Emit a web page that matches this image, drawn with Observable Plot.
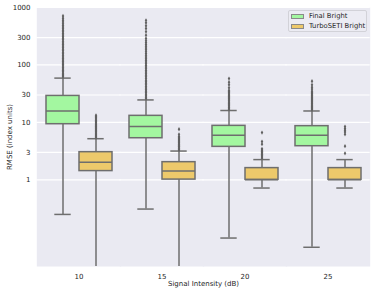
<!DOCTYPE html>
<html><head><meta charset="utf-8">
<script src="https://cdn.jsdelivr.net/npm/d3@7"></script>
<script src="https://cdn.jsdelivr.net/npm/@observablehq/plot@0.6"></script>
<style>
body{margin:0;background:#fff;font-family:"DejaVu Sans",sans-serif;}
#wrap{position:relative;width:374px;height:292px;}
.legend{position:absolute;left:288px;top:10px;width:79px;height:22px;box-sizing:border-box;border:1px solid #d2d2d8;border-radius:2px;background:#ececf3;font-size:6.8px;color:#262626;}
.legend .row{position:absolute;left:2px;display:flex;align-items:center;height:8px;}
.sw{width:13px;height:5px;border:1px solid #8a8a8a;box-sizing:border-box;margin-right:5px}
</style></head>
<body><div id="wrap"></div>
<script>
const intensities = ["10","15","20","25"];
const seriesNames = ["Final Bright","TurboSETI Bright"];
const seriesColors = ["#a3f7a0","#edc96b"];
const yTicks = [1,3,10,30,100,300,1000];

const finalLow  = [0.25, 0.31, 0.097, 0.067];
const finalQ1   = [9.3, 5.3, 3.75, 3.85];
const finalMed  = [15.8, 8.5, 6.0, 6.0];
const finalQ3   = [28.9, 13.0, 8.7, 8.6];
const finalHigh = [59, 24.6, 16.1, 15.8];

const turboLow  = [0.001, 0.001, 0.72, 0.72];
const turboQ1   = [1.42, 1.01, 1.0, 1.0];
const turboMed  = [2.03, 1.43, 1.0, 1.0];
const turboQ3   = [3.03, 2.03, 1.6, 1.6];
const turboHigh = [5.2, 3.17, 2.25, 2.25];

const finalOutliers = [
  [62,65,68,72,76,80,85,90,96,102,108,115,122,130,138,147,156,166,177,188,200,213,227,242,258,275,293,312,332,354,377,402,428,456,486,520,560,600,650,711],
  [26,27.5,29,31,33,35,37,39.5,42,45,48,51,54,58,62,66,70,75,80,86,92,98,105,112,120,128,137,147,158,170,183,197,212,228,245,265,290,330,380,430,480,540,599],
  [17,17.8,18.6,19.5,20.4,21.4,22.4,23.5,24.6,25.8,27,28.3,29.7,31.2,32.8,34.5,36,40,45,50,57.8],
  [16.6,17.4,18.2,19,19.9,20.8,21.8,22.8,23.9,25,26.2,27.4,28.7,30,31.5,33,35,38,41,45,52]
];
const turboOutliers = [
  [5.45,5.7,5.95,6.2,6.5,6.8,7.1,7.4,7.75,8.1,8.5,8.9,9.3,9.8,10.3,10.8,11.4,12,12.6,13.3],
  [3.3,3.45,3.6,3.75,3.9,4.05,4.2,4.4,4.6,4.8,5.0,5.2,5.45,5.7,6.2,7.6],
  [2.38,2.51,2.62,2.72,2.83,2.95,3.07,3.19,3.32,3.46,4.18,4.63,6.65],
  [2.9,3.85,6.2,6.8,7.3,7.8,8.45]
];

const boxes = [];
const outliers = [];
intensities.forEach((k, i) => {
  boxes.push({intensity:k, series:seriesNames[0], low:finalLow[i], q1:finalQ1[i], med:finalMed[i], q3:finalQ3[i], high:finalHigh[i]});
  boxes.push({intensity:k, series:seriesNames[1], low:turboLow[i], q1:turboQ1[i], med:turboMed[i], q3:turboQ3[i], high:turboHigh[i]});
  finalOutliers[i].forEach(v => outliers.push({intensity:k, series:seriesNames[0], value:v}));
  turboOutliers[i].forEach(v => outliers.push({intensity:k, series:seriesNames[1], value:v}));
});

const gray = "#6e6e6e";
const plot = Plot.plot({
  width:374, height:292,
  marginLeft:37, marginRight:5, marginTop:7, marginBottom:26,
  style:{fontFamily:"DejaVu Sans, sans-serif", fontSize:"7px", color:"#262626", background:"transparent"},
  fx:{domain:intensities, paddingInner:0, paddingOuter:0, label:null, axis:null},
  x:{domain:seriesNames, paddingInner:0, paddingOuter:0.25, axis:null},
  y:{type:"log", domain:[0.031,1000], axis:null},
  color:{domain:seriesNames, range:seriesColors},
  marks:[
    Plot.frame({fill:"#eaeaf2", stroke:"none", insetLeft:-0.7, insetRight:-0.7}),
    Plot.ruleY(yTicks, {y:d => d, stroke:"#ffffff", strokeWidth:1.2, insetLeft:-0.7, insetRight:-0.7}),
    Plot.text(yTicks, {fx:() => intensities[0], y:d => d, text:d => String(d), frameAnchor:"left", textAnchor:"end", dx:-7, fill:"#262626"}),
    Plot.axisY({ticks:[], tickSize:0, label:"RMSE (index units)", labelAnchor:"center", labelOffset:30, labelArrow:"none"}),
    Plot.axisFx({anchor:"bottom", tickSize:0, tickPadding:8, label:"Signal Intensity (dB)", labelAnchor:"center", labelOffset:19, labelArrow:"none"}),
    Plot.ruleX(boxes, {fx:"intensity", x:"series", y1:"low", y2:"high", stroke:gray, strokeWidth:1.5, clip:true}),
    Plot.tickY(boxes, {fx:"intensity", x:"series", y:"low", stroke:gray, strokeWidth:1.5, inset:8.3, clip:true}),
    Plot.tickY(boxes, {fx:"intensity", x:"series", y:"high", stroke:gray, strokeWidth:1.5, inset:8.3}),
    Plot.barY(boxes, {fx:"intensity", x:"series", y1:"q1", y2:"q3", fill:"series", stroke:gray, strokeWidth:1.5}),
    Plot.tickY(boxes, {fx:"intensity", x:"series", y:"med", stroke:gray, strokeWidth:1.5}),
    Plot.dot(outliers, {fx:"intensity", x:"series", y:"value", symbol:"diamond", r:1.3, fill:"#606060", stroke:"none"})
  ]
});
const wrap = document.getElementById("wrap");
wrap.appendChild(plot);
const lg = document.createElement("div");
lg.className = "legend";
seriesNames.forEach((s, i) => {
  const row = document.createElement("div");
  row.className = "row";
  row.style.top = (1 + i * 10) + "px";
  const sw = document.createElement("span");
  sw.className = "sw";
  sw.style.background = seriesColors[i];
  const t = document.createElement("span");
  t.textContent = s;
  row.appendChild(sw); row.appendChild(t);
  lg.appendChild(row);
});
wrap.appendChild(lg);
</script>
</body></html>
